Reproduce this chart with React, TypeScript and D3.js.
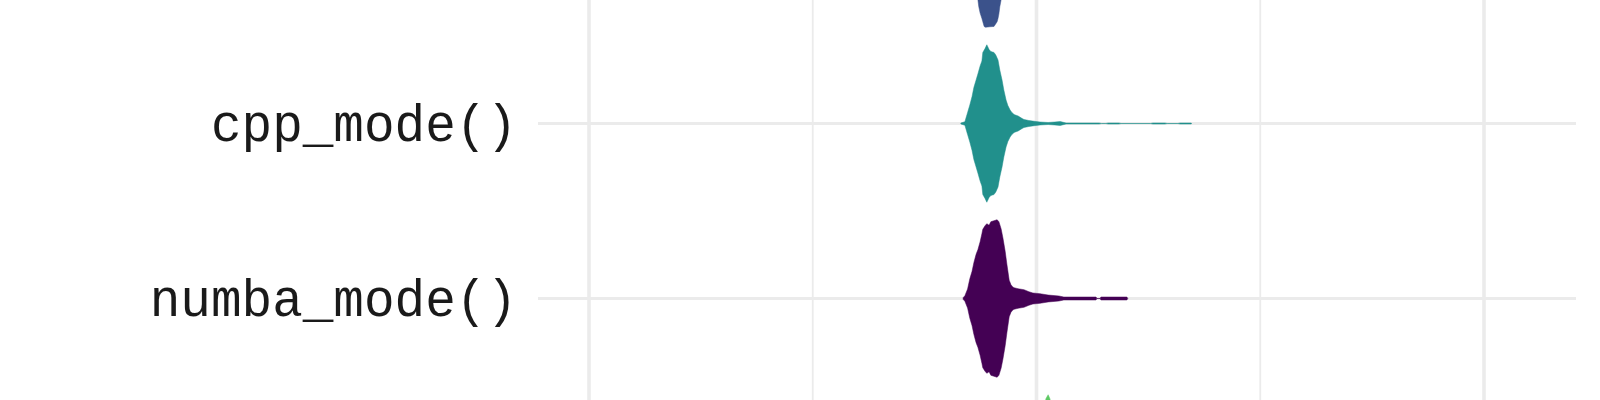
import { useRef, useEffect } from 'react';
import * as d3 from 'd3';

// rows, top to bottom (outer two are cut off by the crop)
const groups = ['numpy_mode()', 'cpp_mode()', 'numba_mode()', 'python_mode()'];
const groupColors = ['#3b528b', '#21908c', '#440154', '#5dc863'];

const majorTicks = [10, 20, 30];
const minorTicks = [15, 25];

// density profiles: value -> % of each violin's peak
const numpyValues = [18.42, 18.51, 18.6, 18.69, 18.71, 18.74, 18.78, 18.8, 18.83, 18.86, 18.96, 19.05, 19.12, 19.14, 19.16, 19.18, 19.21, 19.27, 19.36, 19.5, 19.72, 20.08, 20.75, 20.8];
const numpyDensity = [0, 15, 38, 65, 74, 82, 89, 93, 99, 100, 99.4, 99, 93, 89, 83, 74, 65, 45, 24, 12, 5, 2, 0.8, 0];

const cppValues = [18.31, 18.4, 18.46, 18.51, 18.56, 18.6, 18.65, 18.69, 18.74, 18.78, 18.8, 18.85, 18.89, 18.94, 18.98, 19.05, 19.09, 19.14, 19.18, 19.23, 19.27, 19.32, 19.36, 19.41, 19.45, 19.5, 19.59, 19.68, 19.72, 19.83, 19.99, 20.08, 20.26, 20.41, 20.53, 20.66, 21.4, 21.45, 21.55, 21.6, 21.84, 21.89, 22.55, 22.6, 22.87, 22.92, 23.16, 23.21, 23.45, 23.47];
const cppDensity = [0.6, 2.3, 14, 23.5, 34.3, 45.7, 55.2, 62.9, 73, 79.4, 90.2, 95.2, 100, 94, 91.4, 90.2, 87, 80.6, 67.9, 55.2, 42.5, 29.8, 22.9, 17.1, 14, 11.4, 9.5, 6.3, 5.1, 3.8, 2.5, 1.9, 1.3, 1.9, 2.5, 0.6, 0.6, 0, 0, 0.6, 0.6, 0, 0, 0.6, 0.6, 0, 0, 0.6, 0.6, 0];

const numbaValues = [18.36, 18.4, 18.46, 18.51, 18.56, 18.6, 18.65, 18.69, 18.74, 18.78, 18.8, 18.85, 18.89, 18.94, 18.98, 19.03, 19.12, 19.16, 19.21, 19.25, 19.3, 19.34, 19.39, 19.43, 19.47, 19.5, 19.59, 19.72, 19.83, 19.92, 20.08, 20.26, 20.5, 20.61, 21.33, 21.35, 21.42, 21.44, 22.02, 22.04];
const numbaDensity = [1, 3.6, 12.1, 25.1, 34.5, 45.5, 56.1, 62, 72.1, 82.3, 87.9, 92.4, 95, 93, 97.5, 98.4, 100, 97.5, 88.3, 76.8, 59.9, 42.9, 23.1, 17.5, 14.6, 13.7, 12.4, 11.2, 8.6, 7, 6.1, 4.4, 3.2, 1.9, 1.9, 0, 0, 1.9, 1.9, 0];

const pythonValues = [19.85, 19.99, 20.08, 20.15, 20.21, 20.26, 20.3, 20.37, 20.48, 20.64, 20.86, 21.2, 21.87, 21.98];
const pythonDensity = [0, 20, 45, 75, 95, 100, 95, 78, 50, 25, 10, 4, 1, 0];

const profiles = [
  { values: numpyValues, density: numpyDensity },
  { values: cppValues, density: cppDensity },
  { values: numbaValues, density: numbaDensity },
  { values: pythonValues, density: pythonDensity },
];

export default function App() {
  const svgRef = useRef<SVGSVGElement>(null);
  const width = 1600;
  const height = 400;

  useEffect(() => {
    if (!svgRef.current) return;
    const svg = d3.select(svgRef.current);
    svg.selectAll('*').remove();

    const panel = { left: 538, right: 1576 };
    const x = d3.scaleLinear().domain([10, 30]).range([589, 1484]);
    const y = d3.scalePoint<string>().domain(groups).range([-51.5, 473.5]);
    const halfWidth = y.step() * 0.45;
    const w = d3.scaleLinear().domain([0, 100]).range([0, halfWidth]);

    const grid = svg.append('g');

    // minor vertical grid
    grid.selectAll('line.minor')
      .data(minorTicks)
      .join('line')
      .attr('class', 'minor')
      .attr('x1', (d) => x(d)).attr('x2', (d) => x(d))
      .attr('y1', 0).attr('y2', height)
      .attr('stroke', '#ebebeb')
      .attr('stroke-width', 1.8);

    // major vertical grid
    grid.selectAll('line.major')
      .data(majorTicks)
      .join('line')
      .attr('class', 'major')
      .attr('x1', (d) => x(d)).attr('x2', (d) => x(d))
      .attr('y1', 0).attr('y2', height)
      .attr('stroke', '#ebebeb')
      .attr('stroke-width', 3.6);

    // horizontal grid per category
    grid.selectAll('line.row')
      .data(groups)
      .join('line')
      .attr('class', 'row')
      .attr('x1', panel.left).attr('x2', panel.right)
      .attr('y1', (d) => y(d)!).attr('y2', (d) => y(d)!)
      .attr('stroke', '#ebebeb')
      .attr('stroke-width', 3.2);

    // violins
    groups.forEach((g, i) => {
      const cy = y(g)!;
      const pts = profiles[i].values.map((v, j) => ({ v, d: profiles[i].density[j] }));
      const area = d3.area<{ v: number; d: number }>()
        .x((d) => x(d.v))
        .y0((d) => cy - w(d.d))
        .y1((d) => cy + w(d.d));
      svg.append('path')
        .attr('d', area(pts)!)
        .attr('fill', groupColors[i])
        .attr('stroke', groupColors[i])
        .attr('stroke-width', 0.5);
    });

    // category labels (only rows whose label lies inside the crop)
    svg.append('g')
      .selectAll('text')
      .data(groups.filter((d) => y(d)! > 0 && y(d)! < height))
      .join('text')
      .attr('x', 517)
      .attr('y', (d) => y(d)! + 17)
      .attr('text-anchor', 'end')
      .attr('font-family', '"Liberation Mono", "Courier New", monospace')
      .attr('font-size', '51px')
      .attr('fill', '#1a1a1a')
      .text((d) => d);
  }, []);

  return (
    <svg
      ref={svgRef}
      width={width}
      height={height}
      viewBox={'0 0 ' + width + ' ' + height}
      style={{ position: 'absolute', left: 0, top: 0, background: '#fff' }}
    />
  );
}
